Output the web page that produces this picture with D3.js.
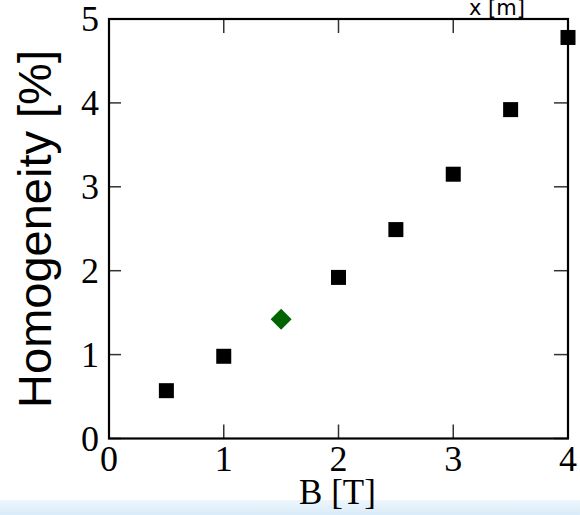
<!DOCTYPE html>
<html><head><meta charset="utf-8">
<script src="https://cdn.jsdelivr.net/npm/d3@7"></script>
<style>html,body{margin:0;padding:0;background:#fff;overflow:hidden}</style>
</head><body>
<script>
const squaresB = [0.5, 1, 2, 2.5, 3, 3.5, 4];
const squaresH = [0.57, 0.98, 1.92, 2.49, 3.15, 3.92, 4.78];
const diamondB = [1.5];
const diamondH = [1.42];
const xTicks = [0, 1, 2, 3, 4];
const yTicks = [0, 1, 2, 3, 4, 5];

const W = 580, H = 515;
const svg = d3.select("body").append("svg").attr("width", W).attr("height", H);

const defs = svg.append("defs");
const grad = defs.append("linearGradient").attr("id","bg").attr("x1",0).attr("y1",0).attr("x2",0).attr("y2",1);
grad.append("stop").attr("offset","0%").attr("stop-color","#eef6fc");
grad.append("stop").attr("offset","100%").attr("stop-color","#d9ebf8");
svg.append("rect").attr("x",0).attr("y",500).attr("width",W).attr("height",15).attr("fill","url(#bg)");

const x = d3.scaleLinear().domain([0,4]).range([109,568]);
const y = d3.scaleLinear().domain([0,5]).range([438.5,19]);

const serif = "'Liberation Serif','DejaVu Serif',serif";

// ticks (inward)
const tickG = svg.append("g").attr("stroke","#333").attr("stroke-width",1.5);
xTicks.forEach(t => {
  tickG.append("line").attr("x1",x(t)).attr("x2",x(t)).attr("y1",y(0)).attr("y2",y(0)-14);
  tickG.append("line").attr("x1",x(t)).attr("x2",x(t)).attr("y1",y(5)).attr("y2",y(5)+14);
});
yTicks.forEach(t => {
  tickG.append("line").attr("x1",x(0)).attr("x2",x(0)+12).attr("y1",y(t)).attr("y2",y(t));
  tickG.append("line").attr("x1",x(4)).attr("x2",x(4)-14).attr("y1",y(t)).attr("y2",y(t));
});

// frame
svg.append("rect").attr("x",x(0)).attr("y",y(5)).attr("width",x(4)-x(0)).attr("height",y(0)-y(5))
  .attr("fill","none").attr("stroke","#000").attr("stroke-width",2.2);

// tick labels
svg.append("g").selectAll("text").data(xTicks).join("text")
  .attr("x", d => x(d)).attr("y", 471).attr("text-anchor","middle")
  .attr("font-family", serif).attr("font-size", 36).text(d => d);
svg.append("g").selectAll("text").data(yTicks).join("text")
  .attr("x", 99).attr("y", d => y(d)).attr("dy","0.34em").attr("text-anchor","end")
  .attr("font-family", serif).attr("font-size", 36).text(d => d);

// axis titles
svg.append("text").attr("x", 337.5).attr("y", 504).attr("text-anchor","middle")
  .attr("font-family", serif).attr("font-size", 35).text("B [T]");
svg.append("text").attr("transform","translate(51,229) rotate(-90)").attr("text-anchor","middle")
  .attr("font-family","'Liberation Sans',Arial,sans-serif").attr("font-size",47).text("Homogeneity [%]");
svg.append("text").attr("x", 497).attr("y", 15).attr("text-anchor","middle")
  .attr("font-family","'DejaVu Sans',sans-serif").attr("font-size",21).text("x [m]");

// marks
const s = 15;
svg.append("g").selectAll("rect").data(squaresB.map((b,i)=>[b,squaresH[i]])).join("rect")
  .attr("x", d => x(d[0]) - s/2).attr("y", d => y(d[1]) - s/2)
  .attr("width", s).attr("height", s).attr("fill","#000");
svg.append("g").selectAll("path").data(diamondB.map((b,i)=>[b,diamondH[i]])).join("path")
  .attr("transform", d => `translate(${x(d[0])},${y(d[1])})`)
  .attr("d","M0,-10.5L10.5,0L0,10.5L-10.5,0Z").attr("fill","#006400");
</script>
</body></html>
